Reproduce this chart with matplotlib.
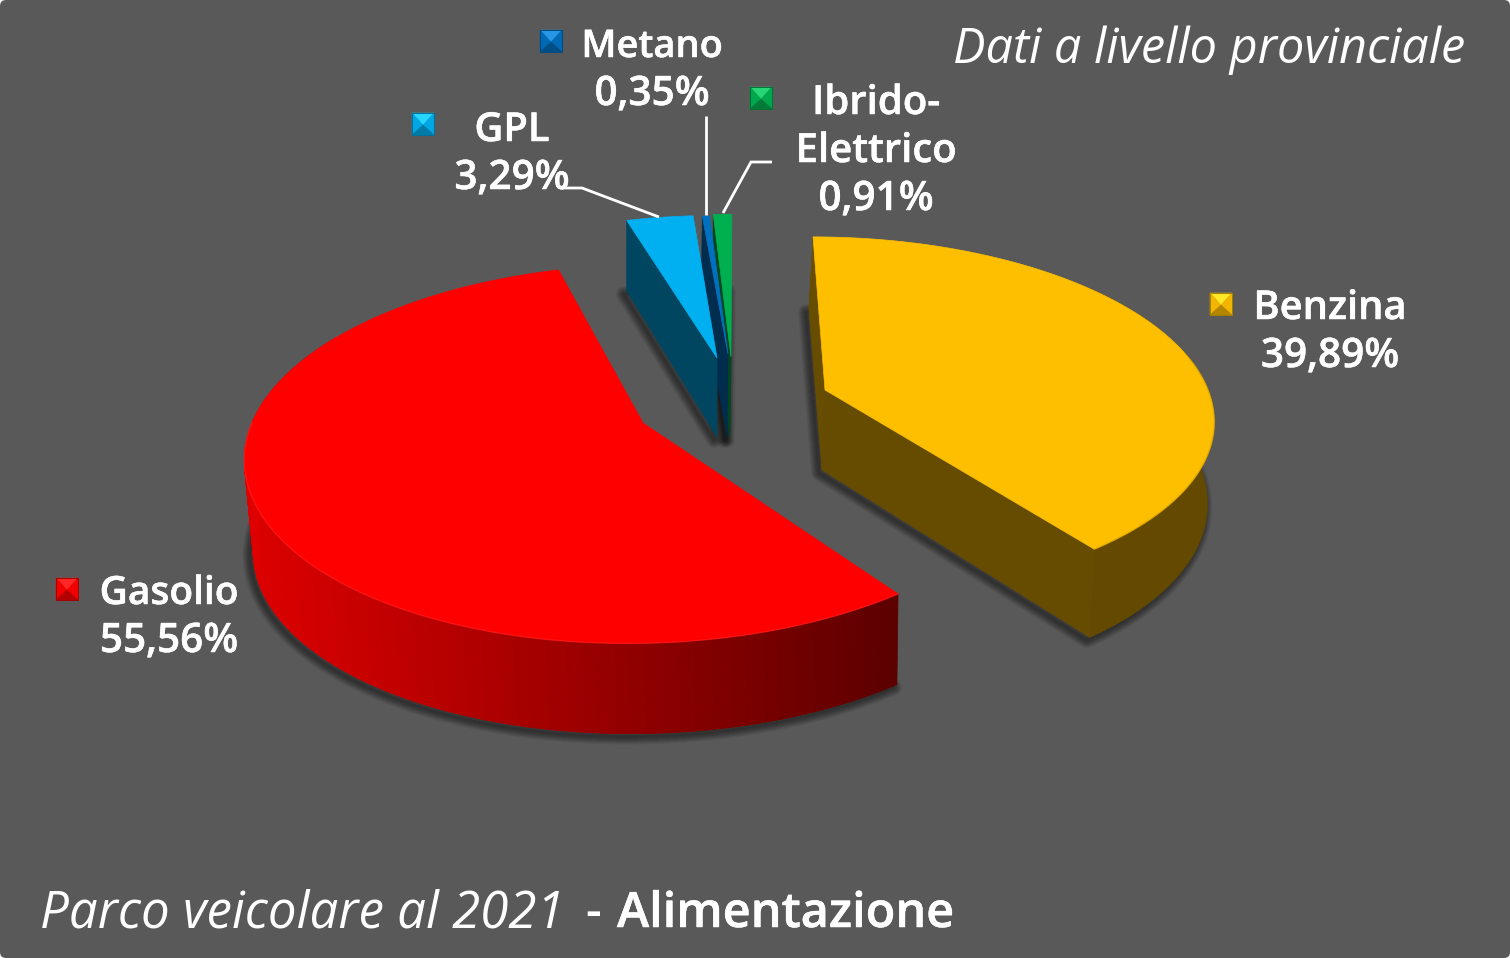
import numpy as np
import matplotlib
matplotlib.use("Agg")
import matplotlib.pyplot as plt
import matplotlib.patheffects as pe
from matplotlib.patches import Polygon, FancyBboxPatch
from matplotlib.collections import PolyCollection
from matplotlib.colors import to_rgb

categories = ["Benzina", "Gasolio", "GPL", "Metano", "Ibrido-\nElettrico"]
values = [39.89, 55.56, 3.29, 0.35, 0.91]
value_labels = ["39,89%", "55,56%", "3,29%", "0,35%", "0,91%"]
colors = ["#FFC000", "#FF0000", "#00B0F0", "#0070C0", "#00B050"]

W, H = 1510, 958
BG = "#595959"
FONT = "Open Sans"

# Perspective fit of each exploded slice: apex x, apex y, a, b, k, shear
TOP = [(825, 390, 383, 175, .143, -13.7), (643, 423, 391, 184.5, .163, 13),
       (717, 358, 373, 164, .15, 2), (728, 354, 373, 159, .15, 0), (731, 357, 373, 164, .15, 1)]
BOT = [(822, 470, 379, 184, .143, -15), (646, 515, 385, 183, .163, 13),
       (717, 437, 373, 174, .15, 2), (727, 437, 373, 169, .15, 0), (730, 437, 373, 171, .15, 1)]


def proj(theta, p):
    ax_, ay_, a, b, k, sh = p
    c, s_ = np.cos(theta), np.sin(theta)
    s = 1 / (1 + k * c)
    return np.column_stack([ax_ + (a * s_ + sh * c) * s, ay_ - b * c * s])


def dark(col, f=.4):
    return tuple(v * f for v in to_rgb(col))


fig = plt.figure(figsize=(W / 100, H / 100), dpi=100, facecolor="white")
ax = fig.add_axes([0, 0, 1, 1])
ax.set_xlim(0, W)
ax.set_ylim(H, 0)
ax.axis("off")
ax.add_patch(FancyBboxPatch((4, 4), W - 8, H - 8, boxstyle="round,pad=4,rounding_size=6",
                            fc=BG, ec="none", zorder=0))

edges = np.radians(np.concatenate([[0], np.cumsum(values) / np.sum(values) * 360]))
edges[-1] = 2 * np.pi


def arc(i, t0=None, t1=None, n=160):
    t0 = edges[i] if t0 is None else t0
    t1 = edges[i + 1] if t1 is None else t1
    return np.linspace(t0, t1, n)


def sector(i, p):
    return np.vstack([[p[0], p[1]], proj(arc(i), p)])


# soft shadows of the slice bases
for i in range(5):
    poly = sector(i, BOT[i]) + np.array([-3, 3])
    for w in range(16, 0, -1):
        ax.add_patch(Polygon(poly, closed=True, fc="none", ec="black", lw=w * .72,
                             alpha=.03, joinstyle="round", zorder=1))


def quad(i, theta, col, z):
    t = proj(np.array([theta]), TOP[i])[0]
    b = proj(np.array([theta]), BOT[i])[0]
    ax.add_patch(Polygon([TOP[i][:2], t, b, BOT[i][:2]], closed=True, fc=col, ec=col, lw=.5, zorder=z))


# thin slices, back to front
for i, z in zip([4, 3, 2], [2, 3, 4]):
    quad(i, edges[i], dark(colors[i]), z)
    ax.add_patch(Polygon(sector(i, TOP[i]), closed=True, fc=colors[i], ec=colors[i], lw=.5, zorder=z))

# Benzina
quad(0, edges[0], dark(colors[0]), 5)
th = arc(0, np.radians(50))
ax.add_patch(Polygon(np.vstack([proj(th, TOP[0]), proj(th, BOT[0])[::-1]]), closed=True,
                     fc="#634A00", ec="#634A00", lw=.5, zorder=5))
quad(0, edges[1], "#654C00", 5.1)
ax.add_patch(Polygon(sector(0, TOP[0]), closed=True, fc="#FDBF00", ec="#FDBF00", lw=.5, zorder=6))
ax.plot(*proj(arc(0, np.radians(80)), TOP[0]).T, color="#D9A400", lw=1.2, alpha=.45, zorder=6.1)

# Gasolio: graded outer wall
th = arc(1, edges[1], np.radians(300), 260)
pt, pb = proj(th, TOP[1]), proj(th, BOT[1])
quads = [[pt[j], pt[j + 1], pb[j + 1], pb[j]] for j in range(len(th) - 1)]
frac = np.clip((pt[:-1, 0] - 250) / (900 - 250), 0, 1)
c0, c1 = np.array([.87, 0, 0]), np.array([.36, 0, 0])
cols = [tuple(c0 + (c1 - c0) * f) for f in frac]
ax.add_collection(PolyCollection(quads, facecolors=cols, edgecolors=cols, linewidths=.6, zorder=7))
ax.add_patch(Polygon(sector(1, TOP[1]), closed=True, fc=colors[1], ec=colors[1], lw=.5, zorder=8))
ax.plot(*proj(arc(1, edges[1], np.radians(270)), TOP[1]).T, color="#FF3030", lw=1, alpha=.4, zorder=8.1)

# leader lines
leaders = [([562, 582, 659], [188, 188, 217]), ([706, 706], [116, 215]), ([772, 751, 723], [162, 162, 213])]
for lx, ly in leaders:
    ax.plot(lx, ly, color="white", lw=2, solid_capstyle="butt", solid_joinstyle="miter", zorder=9)


def icon(cx, cy, col, size=22):
    h = size / 2
    base = np.array(to_rgb(col))
    light = tuple(np.clip(base + .15, 0, 1))
    mid = tuple(base * .95)
    low = tuple(base * .7)
    c = (cx, cy + 1)
    nw, ne, se, sw = (cx - h, cy - h), (cx + h, cy - h), (cx + h, cy + h), (cx - h, cy + h)
    for tri, fc in [((nw, ne, c), light), ((ne, se, c), mid), ((sw, nw, c), mid), ((se, sw, c), low)]:
        ax.add_patch(Polygon(tri, closed=True, fc=fc, ec=fc, lw=.3, zorder=10))
    ax.add_patch(Polygon([nw, ne, se, sw], closed=True, fc="none", ec=dark(col, .65), lw=.7, zorder=10.1))


THICK = [pe.withStroke(linewidth=.35, foreground="white")]
NAME = dict(color="white", family=FONT, fontweight=600, ha="center", va="baseline",
            zorder=11, path_effects=THICK)
name_size = [28.7, 28.0, 28.7, 27.4, 28.9]
label_x = [1330, 169, 512, 652, 876]
label_base = [319, 604, 141, 57, 114]
icon_pos = [(1221, 304), (67, 589), (423, 124), (551, 41), (761, 98)]
LINE = 48
for i in range(5):
    lines = categories[i].split("\n")
    for j, s in enumerate(lines):
        ax.text(label_x[i], label_base[i] + j * LINE, s, fontsize=name_size[i], **NAME)
    ax.text(label_x[i], label_base[i] + len(lines) * LINE, value_labels[i], fontsize=29.2, **NAME)
    icon(*icon_pos[i], colors[i])

ax.text(1465, 63, "Dati a livello provinciale", color="white", family=FONT, style="italic",
        fontsize=35, ha="right", va="baseline", zorder=11)
ax.text(40, 927, "Parco veicolare al 2021", color="white", family=FONT, style="italic",
        fontsize=36.7, ha="left", va="baseline", zorder=11)
ax.text(585, 927, "-", color="white", family=FONT, fontweight=600,
        fontsize=35, ha="left", va="baseline", zorder=11)
ax.text(617, 927, "Alimentazione", color="white", family=FONT, fontweight=600,
        fontsize=35, ha="left", va="baseline", zorder=11, path_effects=THICK)

fig.savefig("out.png", dpi=100, facecolor="white")
